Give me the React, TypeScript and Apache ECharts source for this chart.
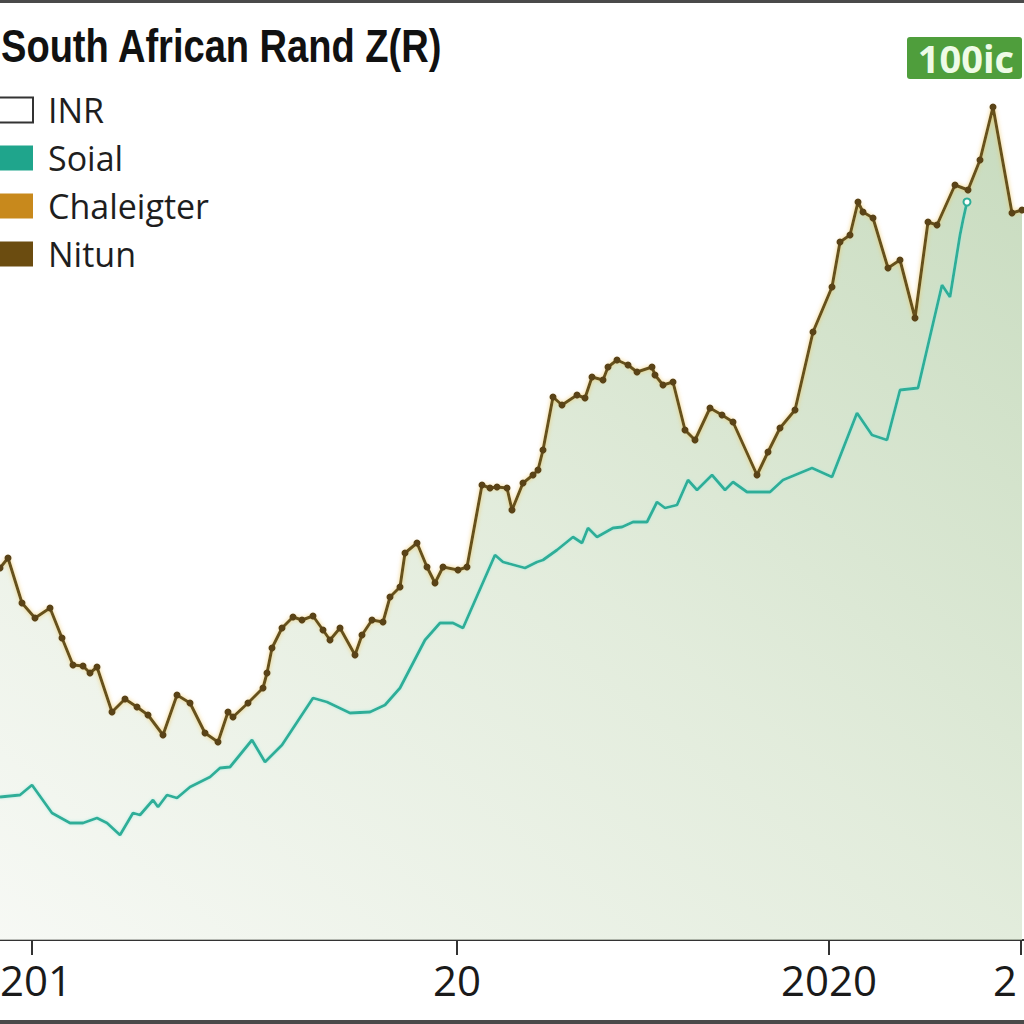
import React, { useEffect, useRef } from "react";
import * as echarts from "echarts";

// x positions (time index) and values (rand level)
const brownX = [0, 8, 22, 35, 50, 62, 73, 83, 90, 97, 112, 125, 137, 148, 163, 177, 190, 205, 218, 228, 233, 248, 263, 267, 272, 282, 293, 302, 313, 323, 330, 340, 355, 362, 372, 383, 390, 400, 405, 417, 427, 435, 443, 458, 467, 482, 490, 497, 507, 512, 523, 533, 538, 543, 553, 562, 577, 585, 592, 603, 608, 617, 628, 637, 652, 655, 663, 673, 685, 695, 710, 722, 733, 757, 768, 780, 795, 813, 832, 840, 850, 858, 863, 873, 888, 900, 915, 928, 937, 955, 968, 980, 993, 1012, 1022];
const brownY = [37.2, 38.2, 33.7, 32.2, 33.2, 30.2, 27.5, 27.4, 26.7, 27.3, 22.8, 24.1, 23.3, 22.5, 20.5, 24.5, 23.7, 20.7, 19.8, 22.8, 22.3, 23.7, 25.2, 26.7, 29.2, 31.2, 32.3, 32.0, 32.4, 31.0, 30.0, 31.2, 28.5, 30.5, 32.0, 31.8, 34.3, 35.3, 38.7, 39.7, 37.3, 35.7, 37.3, 37.0, 37.3, 45.5, 45.2, 45.3, 45.2, 43.0, 45.7, 46.5, 47.0, 49.0, 54.3, 53.5, 54.5, 54.2, 56.3, 56.0, 57.3, 58.0, 57.5, 56.8, 57.3, 56.5, 55.5, 55.8, 51.0, 50.0, 53.2, 52.5, 51.8, 46.5, 48.8, 51.2, 53.0, 60.8, 65.3, 69.8, 70.5, 73.8, 72.8, 72.2, 67.2, 68.0, 62.2, 71.8, 71.5, 75.5, 75.0, 78.0, 83.3, 72.7, 73.0];

const tealX = [0, 20, 32, 52, 70, 83, 97, 107, 120, 133, 140, 153, 158, 167, 177, 190, 210, 220, 230, 252, 265, 282, 313, 327, 350, 370, 385, 400, 425, 440, 453, 463, 495, 503, 525, 537, 543, 557, 573, 582, 588, 597, 613, 622, 633, 647, 657, 665, 677, 688, 697, 712, 725, 733, 747, 770, 783, 812, 832, 857, 872, 887, 900, 918, 942, 950, 960, 963, 967];
const tealY = [14.3, 14.5, 15.5, 12.7, 11.7, 11.7, 12.2, 11.7, 10.5, 12.7, 12.5, 14.0, 13.3, 14.5, 14.2, 15.3, 16.3, 17.2, 17.3, 20.0, 17.8, 19.5, 24.2, 23.8, 22.7, 22.8, 23.5, 25.2, 30.0, 31.7, 31.7, 31.2, 38.5, 37.8, 37.2, 37.8, 38.0, 39.0, 40.3, 39.7, 41.2, 40.3, 41.2, 41.3, 41.8, 41.8, 43.8, 43.2, 43.5, 46.0, 45.0, 46.5, 45.0, 45.8, 44.8, 44.8, 46.0, 47.2, 46.3, 52.7, 50.5, 50.0, 55.0, 55.2, 65.5, 64.3, 70.5, 72.0, 73.8];

const xTicks = [32, 457, 829, 1021];
const xTickLabels = ["201", "20", "2020", "2"];

const legendNames = ["INR", "Soial", "Chaleigter", "Nitun"];
const legendColors = ["#ffffff", "#1fa58c", "#c8891c", "#6b4c10"];

const titleText = "South African Rand Z(R)";
const badgeText = "100ic";

export default function App() {
  const ref = useRef<HTMLDivElement>(null);
  useEffect(() => {
    if (!ref.current) return;
    const chart = echarts.init(ref.current, null, { renderer: "svg" });
    const brown = brownX.map((x, i) => [x, brownY[i]]);
    const teal = tealX.map((x, i) => [x, tealY[i]]);
    const lastTeal = teal.length - 1;
    const labelKeys = ["a", "n", "n", "z"];
    const option: any = {
      animation: false,
      backgroundColor: "#ffffff",
      grid: { left: 0, right: 0, top: 0, bottom: 84, containLabel: false, outerBoundsMode: "none" },
      xAxis: {
        type: "value",
        min: 0,
        max: 1024,
        splitLine: { show: false },
        axisLine: { show: true, lineStyle: { color: "#333333", width: 2 } },
        axisTick: {
          show: true,
          customValues: xTicks,
          length: 15,
          lineStyle: { color: "#333333", width: 2 },
        },
        axisLabel: {
          show: true,
          customValues: xTicks,
          margin: 18,
          color: "#1a1a1a",
          fontFamily: "Open Sans",
          fontSize: 42,
          hideOverlap: false,
          formatter: (v: number) => {
            const i = xTicks.indexOf(Math.round(v));
            if (i < 0) return "";
            return "{" + labelKeys[i] + "|" + xTickLabels[i] + "}";
          },
          rich: {
            a: { fontFamily: "Open Sans", fontSize: 42, color: "#1a1a1a", padding: [0, 0, 0, 8] },
            n: { fontFamily: "Open Sans", fontSize: 42, color: "#1a1a1a" },
            z: { fontFamily: "Open Sans", fontSize: 42, color: "#1a1a1a", padding: [0, 32, 0, 0] },
          },
        },
      },
      yAxis: { type: "value", min: 0, max: 94, show: false, splitLine: { show: false } },
      legend: {
        orient: "vertical",
        left: -6,
        top: 93,
        padding: 0,
        icon: "rect",
        itemWidth: 38,
        itemHeight: 25,
        itemGap: 14,
        selectedMode: false,
        textStyle: {
          fontFamily: "Open Sans",
          fontSize: 34,
          lineHeight: 30,
          color: "#1e1e1e",
          padding: [0, 0, 0, 10],
        },
        data: legendNames.map((n, i) => ({
          name: n,
          itemStyle:
            i === 0
              ? { color: "#ffffff", borderColor: "#333333", borderWidth: 2 }
              : { color: legendColors[i], borderWidth: 0 },
        })),
      },
      graphic: [
        {
          type: "text",
          x: 1,
          y: 46,
          scaleX: 0.81,
          style: {
            text: titleText,
            x: 0,
            y: 0,
            fill: "#111111",
            font: 'bold 47px "Liberation Sans"',
            verticalAlign: "middle",
          },
          z: 10,
        },
        {
          type: "rect",
          shape: { x: 907, y: 37, width: 115, height: 42, r: 3 },
          style: { fill: "#4f9e3c" },
          z: 10,
        },
        {
          type: "text",
          x: 966,
          y: 58,
          style: {
            text: badgeText,
            fill: "#eefbe6",
            font: 'bold 38px "Open Sans"',
            align: "center",
            verticalAlign: "middle",
          },
          z: 11,
        },
        { type: "rect", shape: { x: 0, y: 0, width: 1024, height: 3 }, style: { fill: "#4a4a4a" }, z: 12 },
        { type: "rect", shape: { x: 0, y: 1020, width: 1024, height: 4 }, style: { fill: "#4a4a4a" }, z: 12 },
      ],
      series: [
        { name: "INR", type: "line", data: [], itemStyle: { color: legendColors[0] } },
        { name: "Chaleigter", type: "line", data: [], itemStyle: { color: legendColors[2] } },
        {
          name: "Nitun",
          type: "line",
          data: brown,
          symbol: "circle",
          symbolSize: 7,
          showSymbol: true,
          itemStyle: { color: "#5a4317" },
          lineStyle: {
            color: "#66511f",
            width: 3,
            shadowColor: "rgba(235,195,90,0.8)",
            shadowBlur: 4,
          },
          areaStyle: {
            origin: "start",
            color: new echarts.graphic.LinearGradient(1, 0, 0, 1, [
              { offset: 0, color: "rgb(176,204,163)" },
              { offset: 0.5, color: "rgb(214,228,205)" },
              { offset: 1, color: "rgb(243,246,240)" },
            ]),
          },
          z: 3,
        },
        {
          name: "Soial",
          type: "line",
          data: teal,
          symbol: "emptyCircle",
          symbolSize: (_v: any, p: any) => (p.dataIndex === lastTeal ? 7 : 0),
          showSymbol: true,
          itemStyle: { color: "#2fae98" },
          lineStyle: {
            color: "#2fae98",
            width: 2.8,
            shadowColor: "rgba(160,235,225,0.8)",
            shadowBlur: 3,
          },
          z: 4,
        },
      ],
    };
    chart.setOption(option);
    return () => chart.dispose();
  }, []);
  return (
    <div
      ref={ref}
      style={{ position: "fixed", left: 0, top: 0, width: 1024, height: 1024 }}
    />
  );
}
